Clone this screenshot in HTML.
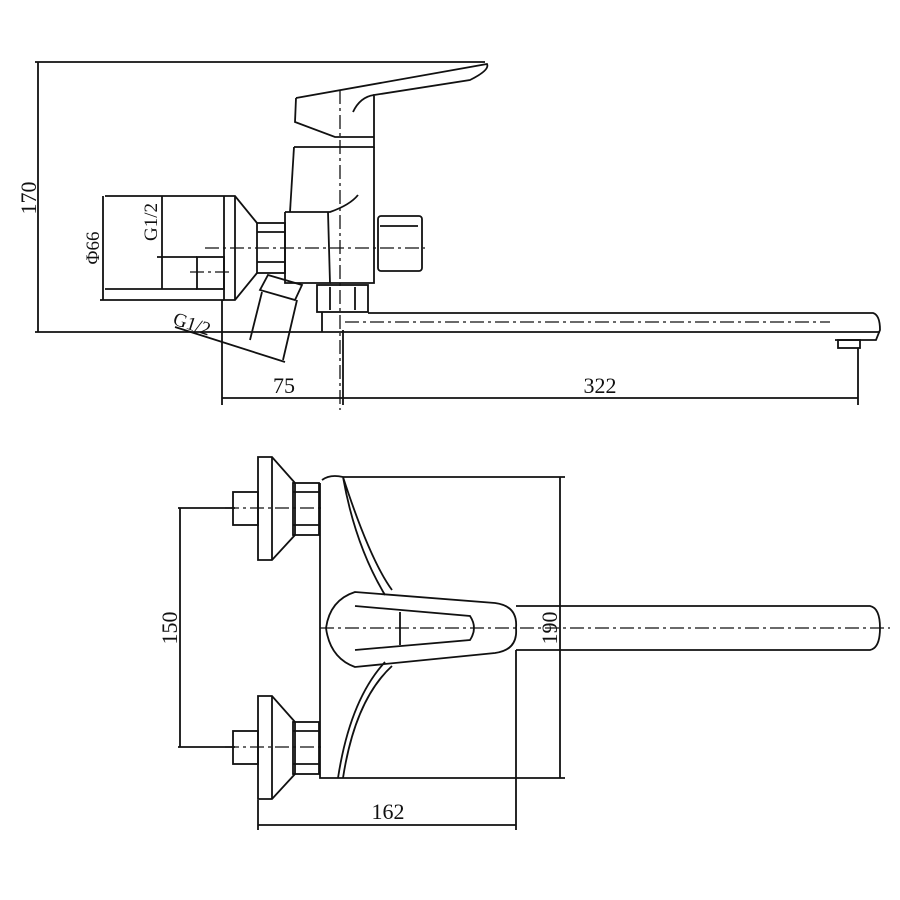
<!DOCTYPE html>
<html><head><style>html,body{margin:0;padding:0;background:#fff}svg{display:block}</style></head>
<body>
<svg width="900" height="900" viewBox="0 0 900 900" xmlns="http://www.w3.org/2000/svg" font-family="Liberation Serif, serif" fill="none" stroke="#111" stroke-width="1.8">
<!-- ===== TOP VIEW ===== -->
<line x1="35" y1="62" x2="485" y2="62"/>
<line x1="35" y1="332" x2="880" y2="332"/>
<line x1="38" y1="62" x2="38" y2="332"/>
<text transform="translate(36,198) rotate(-90)" font-size="22" fill="#111" stroke="none" text-anchor="middle">170</text>
<path d="M296,98 L487,64 Q490,70 470,80 L374,95 L374,147 L294,147"/>
<path d="M296,98 L295,122 L335,137 L374,137"/>
<path d="M353,112 Q360,97 374,95"/>
<path d="M294,147 L290,212"/>
<path d="M374,147 L374,283 L330,283"/>
<path d="M285,212 L330,212 Q350,205 358,195"/>
<path d="M285,212 L285,283 L330,283 L328,212"/>
<rect x="378" y="216" width="44" height="55" rx="3"/>
<line x1="380" y1="226" x2="418" y2="226"/>
<rect x="257" y="223" width="28" height="50"/>
<line x1="257" y1="232" x2="285" y2="232"/><line x1="257" y1="262" x2="285" y2="262"/>
<path d="M105,196 L235,196 L257,223 M257,273 L235,300 L224,300 L224,196"/>
<line x1="235" y1="196" x2="235" y2="300"/>
<rect x="197" y="257" width="27" height="32"/>
<line x1="105" y1="289" x2="197" y2="289"/><line x1="157" y1="257" x2="197" y2="257"/>
<line x1="103" y1="196" x2="103" y2="300"/><line x1="100" y1="300" x2="224" y2="300"/>
<line x1="162" y1="196" x2="162" y2="289"/>
<text transform="translate(99,248) rotate(-90)" font-size="19" fill="#111" stroke="none" text-anchor="middle">Φ66</text>
<text transform="translate(157,222) rotate(-90)" font-size="19" fill="#111" stroke="none" text-anchor="middle">G1/2</text>
<path d="M268,275 L302,285 L295,300 L260,290 Z"/>
<path d="M262,292 L250,340 M297,300 L283,360"/>
<line x1="175" y1="327" x2="285" y2="362"/>
<text transform="translate(172,324) rotate(18)" font-size="19" fill="#111" stroke="none">G1/2</text>
<rect x="317" y="285" width="51" height="27"/>
<line x1="330" y1="287" x2="330" y2="310"/><line x1="355" y1="287" x2="355" y2="310"/>
<path d="M322,312 L322,332 M368,313 L873,313 Q880,315 880,330 L876,340 L835,340"/>
<rect x="838" y="340" width="22" height="8"/>
<g stroke-dasharray="14,4,3,4" stroke-width="1.3">
<line x1="340" y1="90" x2="340" y2="410"/>
<line x1="205" y1="248" x2="425" y2="248"/>
<line x1="190" y1="272" x2="230" y2="272"/>
<line x1="345" y1="322" x2="830" y2="322"/>
</g>
<line x1="222" y1="300" x2="222" y2="405"/>
<line x1="343" y1="330" x2="343" y2="405"/>
<line x1="858" y1="348" x2="858" y2="405"/>
<line x1="222" y1="398" x2="858" y2="398"/>
<text x="284" y="393" font-size="22" fill="#111" stroke="none" text-anchor="middle">75</text>
<text x="600" y="393" font-size="22" fill="#111" stroke="none" text-anchor="middle">322</text>

<!-- ===== BOTTOM VIEW ===== -->
<g id="pl">
<path d="M258,457 L272,457 L295,483 L295,535 L272,560 L258,560 Z"/>
<line x1="272" y1="457" x2="272" y2="560"/>
<rect x="293" y="483" width="26" height="52"/>
<line x1="293" y1="492" x2="319" y2="492"/><line x1="293" y1="525" x2="319" y2="525"/>
<rect x="233" y="492" width="25" height="33"/>
</g>
<use href="#pl" transform="translate(0,239)"/>
<path d="M320,483 L320,778 L343,778 M322,480 Q330,474 343,477 M343,477 Q370,560 392,590 M385,595 Q355,545 343,477"/>
<path d="M343,778 Q355,700 392,666 M385,662 Q350,700 338,778"/>
<path d="M355,592 Q330,600 326,628 Q330,658 355,667 L495,653 Q518,650 516,628 Q518,606 495,603 Z"/>
<path d="M355,606 L470,616 Q478,628 470,640 L355,650"/>
<line x1="400" y1="612" x2="400" y2="645"/>
<path d="M516,606 L870,606 Q880,608 880,628 Q880,648 870,650 L516,650"/>
<g stroke-dasharray="14,4,3,4" stroke-width="1.3">
<line x1="225" y1="508" x2="325" y2="508"/>
<line x1="225" y1="747" x2="325" y2="747"/>
<line x1="320" y1="628" x2="890" y2="628"/>
</g>
<line x1="343" y1="477" x2="565" y2="477"/>
<line x1="343" y1="778" x2="565" y2="778"/>
<line x1="560" y1="477" x2="560" y2="778"/>
<text transform="translate(557,628) rotate(-90)" font-size="22" fill="#111" stroke="none" text-anchor="middle">190</text>
<line x1="178" y1="508" x2="235" y2="508"/>
<line x1="178" y1="747" x2="235" y2="747"/>
<line x1="180" y1="508" x2="180" y2="747"/>
<text transform="translate(177,628) rotate(-90)" font-size="22" fill="#111" stroke="none" text-anchor="middle">150</text>
<line x1="258" y1="800" x2="258" y2="830"/>
<line x1="516" y1="650" x2="516" y2="830"/>
<line x1="258" y1="825" x2="516" y2="825"/>
<text x="388" y="819" font-size="22" fill="#111" stroke="none" text-anchor="middle">162</text>
</svg>
</body></html>
